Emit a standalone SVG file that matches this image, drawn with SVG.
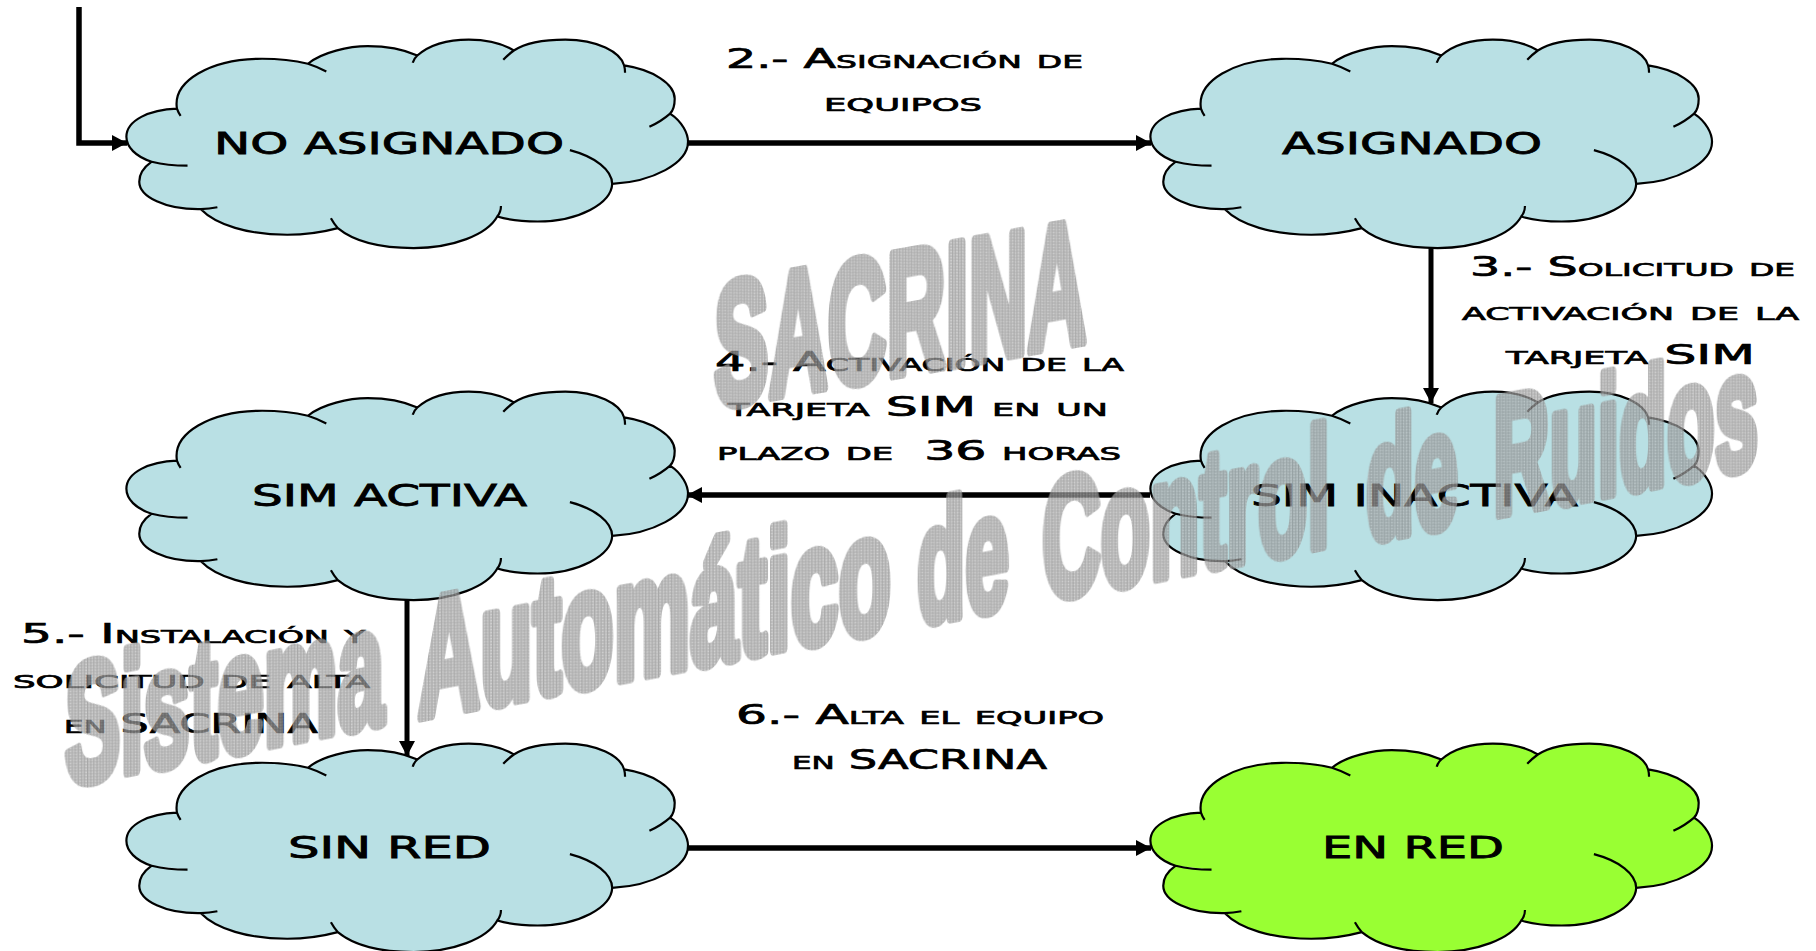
<svg xmlns="http://www.w3.org/2000/svg" width="1816" height="951" viewBox="0 0 1816 951">
<style>
.cloud{stroke:#000;stroke-width:2.2;vector-effect:non-scaling-stroke}
.blue{fill:#b9e0e4}
.green{fill:#99ff33}
.conn{fill:none;stroke:#000;stroke-width:5.5;marker-end:url(#arrow)}
.node{font-family:"DejaVu Sans","Liberation Sans",sans-serif;font-size:30px;fill:#000;stroke:#000;stroke-width:.8}
.lab{font-family:"DejaVu Sans","Liberation Sans",sans-serif;font-size:26px;font-variant:small-caps;fill:#000;stroke:#000;stroke-width:.7;white-space:pre}
.wm{font-family:"Liberation Sans",Arial,sans-serif;font-weight:700;font-size:168px;fill:url(#hatch);stroke:url(#hatch);stroke-width:11;stroke-linejoin:round}
</style>
<defs>
<path id="c" vector-effect="non-scaling-stroke" d="M385,325 C375,240 460,178 560,175 C600,174 640,180 670,190 C700,155 760,137 800,137 C840,137 880,148 908,165 C935,132 975,117 1020,117 C1060,117 1095,130 1118,150 C1145,125 1185,117 1230,117 C1300,117 1350,155 1358,195 C1420,208 1468,250 1468,295 C1468,315 1465,330 1458,340 C1485,365 1497,400 1497,425 C1497,490 1420,545 1332,552 C1330,610 1260,665 1170,665 C1135,665 1105,660 1082,650 C1060,705 985,745 900,745 C830,745 770,725 735,685 C700,698 665,705 625,705 C540,705 470,675 437,628 C360,630 303,590 303,545 C303,520 315,500 330,485 C295,470 275,440 275,410 C275,360 325,328 385,325 Z M670,190 Q692,200 710,213 M908,165 Q900,175 898,187 M1118,150 Q1105,163 1095,178 M1358,195 Q1360,205 1360,217 M1458,340 Q1440,362 1413,380 M1240,450 C1295,470 1332,510 1332,552 M1082,650 Q1090,635 1090,618 M735,685 Q726,670 720,655 M437,628 Q455,627 473,622 M330,485 Q365,497 408,497 M385,325 Q388,337 393,347"/>
<marker id="arrow" markerUnits="userSpaceOnUse" markerWidth="16" markerHeight="18" refX="15" refY="8" orient="auto"><path d="M0,0 L15,8 L0,16 Z" fill="#000"/></marker>
<pattern id="hatch" patternUnits="userSpaceOnUse" width="6" height="6" patternTransform="matrix(2.08 .19 0 1 0 0)">
<rect width="6" height="6" fill="#c4c4c4"/>
<path d="M0,1H6M0,4H6M1,0V6M4,0V6" stroke="#828282" stroke-width="1" fill="none"/>
</pattern>
</defs>
<g id="n1"><use href="#c" class="cloud blue" transform="matrix(.4596 0 0 .332 0 .7)"/><text class="node" x="214" y="153.500" textLength="350" lengthAdjust="spacingAndGlyphs">NO ASIGNADO</text></g>
<g id="n2"><use href="#c" class="cloud blue" transform="matrix(.4596 0 0 .332 1024 .7)"/><text class="node" x="1282" y="153.500" textLength="260" lengthAdjust="spacingAndGlyphs">ASIGNADO</text></g>
<g id="n3"><use href="#c" class="cloud blue" transform="matrix(.4596 0 0 .332 0 352.7)"/><text class="node" x="252" y="506" textLength="275" lengthAdjust="spacingAndGlyphs">SIM ACTIVA</text></g>
<g id="n4"><use href="#c" class="cloud blue" transform="matrix(.4596 0 0 .332 1024 352.7)"/><text class="node" x="1251" y="506" textLength="327" lengthAdjust="spacingAndGlyphs">SIM INACTIVA</text></g>
<g id="n5"><use href="#c" class="cloud blue" transform="matrix(.4596 0 0 .332 0 704.7)"/><text class="node" x="288" y="858" textLength="203" lengthAdjust="spacingAndGlyphs">SIN RED</text></g>
<g id="n6"><use href="#c" class="cloud green" transform="matrix(.4596 0 0 .332 1024 704.7)"/><text class="node" x="1322" y="858" textLength="182" lengthAdjust="spacingAndGlyphs">EN RED</text></g>
<g id="connectors">
<path class="conn" d="M79,7 V143 H127"/>
<path class="conn" d="M688,143 H1151"/>
<path class="conn" style="stroke-width:5" d="M1431,248 V403"/>
<path class="conn" d="M1150,495 H687"/>
<path class="conn" style="stroke-width:5" d="M407,600 V756"/>
<path class="conn" d="M688,848 H1151"/>
</g>
<g id="labels">
<text class="lab" x="726" y="67.500" textLength="357" lengthAdjust="spacingAndGlyphs">2.- Asignación de</text>
<text class="lab" x="824" y="111" textLength="158" lengthAdjust="spacingAndGlyphs">equipos</text>
<text class="lab" x="1470" y="276" textLength="325" lengthAdjust="spacingAndGlyphs">3.- Solicitud de</text>
<text class="lab" x="1462" y="320" textLength="337" lengthAdjust="spacingAndGlyphs">activación de la</text>
<text class="lab" x="1506" y="364" textLength="249" lengthAdjust="spacingAndGlyphs">tarjeta SIM</text>
<text class="lab" x="715" y="371" textLength="409" lengthAdjust="spacingAndGlyphs">4.- Activación de la</text>
<text class="lab" x="728" y="416" textLength="380" lengthAdjust="spacingAndGlyphs">tarjeta SIM en un</text>
<text class="lab" x="717" y="460" textLength="404" lengthAdjust="spacingAndGlyphs">plazo de  36 horas</text>
<text class="lab" x="21" y="643" textLength="344" lengthAdjust="spacingAndGlyphs">5.- Instalación y</text>
<text class="lab" x="13" y="688" textLength="357" lengthAdjust="spacingAndGlyphs">solicitud de alta</text>
<text class="lab" x="64" y="733" textLength="254" lengthAdjust="spacingAndGlyphs">en SACRINA</text>
<text class="lab" x="736" y="724" textLength="368" lengthAdjust="spacingAndGlyphs">6.- Alta el equipo</text>
<text class="lab" x="792" y="769" textLength="255" lengthAdjust="spacingAndGlyphs">en SACRINA</text>
</g>
<g id="watermark" opacity=".72">
<text class="wm" style="font-size:174px" transform="matrix(.47 -.083 0 1 714 407)">SACRINA</text>
<text class="wm" transform="matrix(.495 -.097 0 1 65 785)">Sistema</text>
<text class="wm" transform="matrix(.512 -.097 0 1 418 718)">Automático</text>
<text class="wm" transform="matrix(.47 -.089 0 1 917 624)">de</text>
<text class="wm" transform="matrix(.482 -.092 0 1 1042 600)">Control</text>
<text class="wm" transform="matrix(.47 -.089 0 1 1366 541)">de</text>
<text class="wm" transform="matrix(.466 -.089 0 1 1493 516)">Ruidos</text>
</g>
</svg>
